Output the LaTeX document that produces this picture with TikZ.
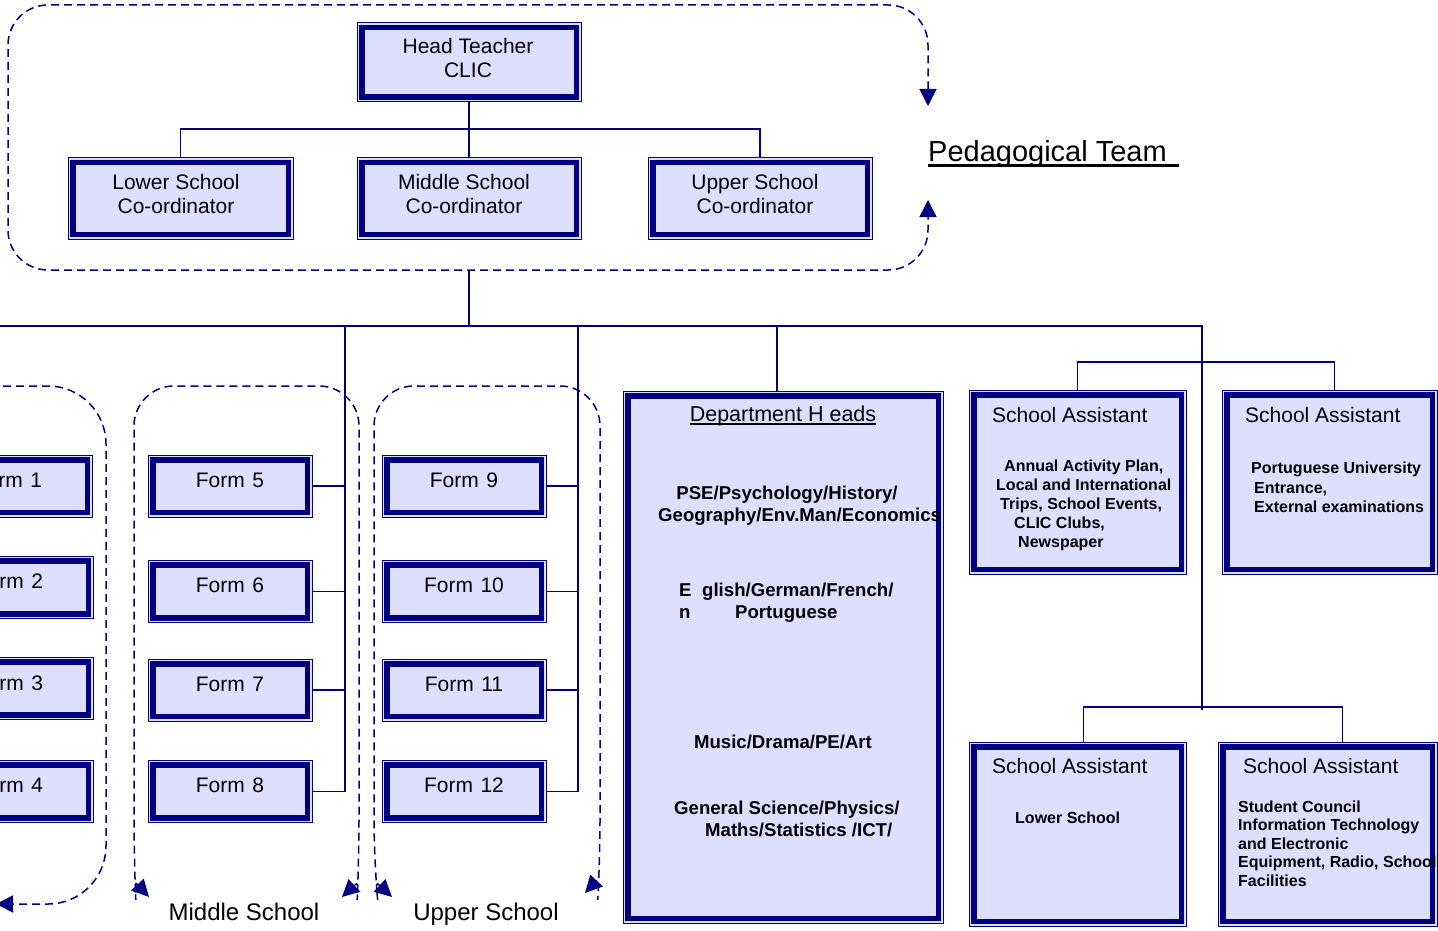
\documentclass[tikz,border=0pt]{standalone}
\usepackage{fontspec}
\setmainfont{Liberation Sans}
\usetikzlibrary{arrows.meta}
\definecolor{navy}{RGB}{0,0,128}
\definecolor{lav}{RGB}{222,222,255}
\newcommand\myul[3]{\setbox0\hbox{#3}\rlap{\rule[-#2]{\wd0}{#1}}\box0}
\newcommand\fsz[2]{\fontsize{#1}{#2}\selectfont}
\begin{document}
\begin{tikzpicture}[x=1pt,y=-1pt,
  box/.style={draw=navy, line width=1pt, fill=lav, inner sep=0pt},
  formbox/.style={box, minimum width=164pt, minimum height=62pt},
  band/.style={draw=navy, line width=5.6pt},
  conn/.style={draw=navy, line width=1.3pt},
  grp/.style={draw=navy, line width=1.5pt, dash pattern=on 8pt off 5pt},
  biarr/.style={arrows={Triangle[length=17pt,width=17pt]-Triangle[length=17pt,width=17pt]}},
  endarr/.style={arrows={-Triangle[length=17pt,width=17pt]}},
  treg/.style={inner sep=0pt, font=\fsz{21}{24}, align=center},
  tform/.style={inner sep=0pt, font=\fsz{21}{24}},
  tlab/.style={inner sep=0pt, font=\fsz{24}{28}, anchor=base},
  tbold/.style={inner sep=0pt, font=\fsz{18.6}{21}\bfseries},
  tsmall/.style={inner sep=0pt, font=\fsz{16}{19}\bfseries, anchor=base west},
  ttitle/.style={inner sep=0pt, font=\fsz{21}{24}, anchor=base west}
]
\useasboundingbox (0,0) rectangle (1438,931);
\clip (0,0) rectangle (1438,931);

% ---- dashed group frames
\draw[grp, rounded corners=40pt, biarr] (928,106) -- (928,5) -- (8,5) -- (8,270) -- (928,270) -- (928,200);
\draw[grp, rounded corners=58pt, endarr] (-140,386) -- (106,386) -- (106,904) -- (-4,904);
\draw[grp, rounded corners=40pt, biarr] (149,897) .. controls (135,882) .. (134,860) -- (134,386) -- (359,386) -- (359,860) .. controls (358,882) .. (342,897);
\draw[grp, rounded corners=40pt, biarr] (392,897) .. controls (376,882) .. (374,860) -- (374,386) -- (600,386) -- (600,860) .. controls (599,878) .. (585,893);

% ---- boxes
\node[box, minimum width=224pt, minimum height=79pt] (head) at (469,62.5) {};
\node[box, minimum width=225pt, minimum height=81pt] (lc) at (180.5,198.5) {};
\node[box, minimum width=224pt, minimum height=81pt] (mc) at (469,198.5) {};
\node[box, minimum width=224pt, minimum height=81pt] (uc) at (760,198.5) {};

\node[formbox] (f1) at (10,486) {};
\node[formbox] (f2) at (11,587.5) {};
\node[formbox] (f3) at (11,688.5) {};
\node[formbox] (f4) at (11,791.5) {};
\node[formbox] (f5) at (230,486) {};
\node[formbox] (f6) at (230,591.5) {};
\node[formbox] (f7) at (230,690) {};
\node[formbox] (f8) at (230,791.5) {};
\node[formbox] (f9) at (464,486) {};
\node[formbox] (f10) at (464,591.5) {};
\node[formbox] (f11) at (464,690) {};
\node[formbox] (f12) at (464,791.5) {};

\node[box, minimum width=320pt, minimum height=532pt] (dept) at (783,657) {};
\node[box, minimum width=217pt, minimum height=184pt] (sa1) at (1077.5,482) {};
\node[box, minimum width=215pt, minimum height=184pt] (sa2) at (1329.5,482) {};
\node[box, minimum width=217pt, minimum height=184pt] (sa3) at (1077.5,834) {};
\node[box, minimum width=219pt, minimum height=184pt] (sa4) at (1327.5,834) {};

\foreach \n in {head,lc,mc,uc,f1,f2,f3,f4,f5,f6,f7,f8,f9,f10,f11,f12,dept,sa1,sa2,sa3,sa4}
  \draw[band] ([shift={(5.2pt,5.2pt)}]\n.south west) rectangle ([shift={(-5.2pt,-5.2pt)}]\n.north east);

% ---- connectors
\coordinate (tbus) at (469,129);
\draw[conn] (head.south) -- (tbus);
\draw[conn] (lc.north) |- (tbus) -| (uc.north);
\draw[conn] (mc.north) -- (tbus);
\coordinate (pedbot) at (469,270);
\coordinate (mainj) at (469,326);
\coordinate (busL) at (-5,326);
\coordinate (busR) at (1203,326);
\draw[conn] (pedbot) -- (mainj);
\draw[conn] (busL) -- (busR);
\coordinate (msb) at (345,326);
\draw[conn] (msb) |- (f8.east);
\foreach \f in {f5,f6,f7} \draw[conn] (\f.east) -- (\f.east -| msb);
\coordinate (usb) at (578,326);
\draw[conn] (usb) |- (f12.east);
\foreach \f in {f9,f10,f11} \draw[conn] (\f.east) -- (\f.east -| usb);
\draw[conn] ([xshift=-6pt]dept.north) -- ([xshift=-6pt]dept.north |- busL);
\coordinate (rbus) at (1202,326);
\coordinate (rend) at (1202,710);
\draw[conn] (rbus) -- (rend);
\coordinate (rj1) at (1202,362);
\coordinate (rj2) at (1202,707);
\draw[conn] (sa1.north) |- (rj1) -| ([xshift=5pt]sa2.north);
\draw[conn] ([xshift=6pt]sa3.north) |- (rj2) -| ([xshift=15pt]sa4.north);

% ---- texts
\node[treg] (t-head) at (468,58) {Head Teacher\\CLIC};
\node[treg] (t-lc) at (176,194) {Lower School\\Co-ordinator};
\node[treg] (t-mc) at (464,194) {Middle School\\Co-ordinator};
\node[treg] (t-uc) at (755,194) {Upper School\\Co-ordinator};
\node[inner sep=0pt, font=\fsz{29}{34}, anchor=base west] (t-ped) at (928,162) {\myul{3pt}{5pt}{Pedagogical Team\ \hspace{4pt}}};

\node[tform] (t-f1) at (8,480) {Form\hspace{7.5pt}1};
\node[tform] (t-f2) at (9,581) {Form\hspace{7.5pt}2};
\node[tform] (t-f3) at (9,683) {Form\hspace{7.5pt}3};
\node[tform] (t-f4) at (9,785) {Form\hspace{7.5pt}4};
\node[tform] (t-f5) at (230,480) {Form\hspace{7.5pt}5};
\node[tform] (t-f6) at (230,585) {Form\hspace{7.5pt}6};
\node[tform] (t-f7) at (230,684) {Form\hspace{7.5pt}7};
\node[tform] (t-f8) at (230,785) {Form\hspace{7.5pt}8};
\node[tform] (t-f9) at (464,480) {Form\hspace{7.5pt}9};
\node[tform] (t-f10) at (464,585) {Form\hspace{7.5pt}10};
\node[tform] (t-f11) at (464,684) {Form\hspace{7.5pt}11};
\node[tform] (t-f12) at (464,785) {Form\hspace{7.5pt}12};

\node[tlab] (t-ms) at (244,920.5) {Middle School};
\node[tlab] (t-us) at (486,920.5) {Upper School};

% department heads
\node[inner sep=0pt, font=\fsz{21.5}{24}, anchor=base] (t-dh) at (783,421.5) {\myul{1.3pt}{3pt}{Department H eads}};
\node[tbold, anchor=base] (t-d1) at (787,499.5) {PSE/Psychology/History/};
\node[tbold, anchor=base west] (t-d2) at (658,521.5) {Geography/Env.Man/Economics};
\node[tbold, anchor=base west] (t-d3a) at (679,596.5) {E};
\node[tbold, anchor=base west] (t-d3b) at (702,596.5) {glish/German/French/};
\node[tbold, anchor=base west] (t-d4a) at (679,618.5) {n};
\node[tbold, anchor=base west] (t-d4b) at (735,618.5) {Portuguese};
\node[tbold, anchor=base] (t-d5) at (783,748.5) {Music/Drama/PE/Art};
\node[tbold, anchor=base west] (t-d6) at (674,814.5) {General Science/Physics/};
\node[tbold, anchor=base west] (t-d7) at (705,836.5) {Maths/Statistics /ICT/};

% school assistants
\node[ttitle] (t-sa1) at (992,422.5) {School Assistant};
\node[ttitle] (t-sa2) at (1245,422.5) {School Assistant};
\node[ttitle] (t-sa3) at (992,773.5) {School Assistant};
\node[ttitle] (t-sa4) at (1243,773.5) {School Assistant};

\node[tsmall] (t-a1) at (1004,471.5) {Annual Activity Plan,};
\node[tsmall] (t-a2) at (996,490.5) {Local and International};
\node[tsmall] (t-a3) at (1000,509.5) {Trips, School Events,};
\node[tsmall] (t-a4) at (1014,528.5) {CLIC Clubs,};
\node[tsmall] (t-a5) at (1018,547) {Newspaper};

\node[tsmall] (t-b1) at (1251,473) {Portuguese University};
\node[tsmall] (t-b2) at (1254,493.5) {Entrance,};
\node[tsmall] (t-b3) at (1254,512.5) {External examinations};

\node[tsmall] (t-c1) at (1015,823) {Lower School};

\node[tsmall] (t-e1) at (1238,812) {Student Council};
\node[tsmall] (t-e2) at (1238,830.5) {Information Technology};
\node[tsmall] (t-e3) at (1238,849) {and Electronic};
\node[tsmall] (t-e4) at (1238,867.5) {Equipment, Radio, School};
\node[tsmall] (t-e5) at (1238,886) {Facilities};
\end{tikzpicture}
\end{document}
